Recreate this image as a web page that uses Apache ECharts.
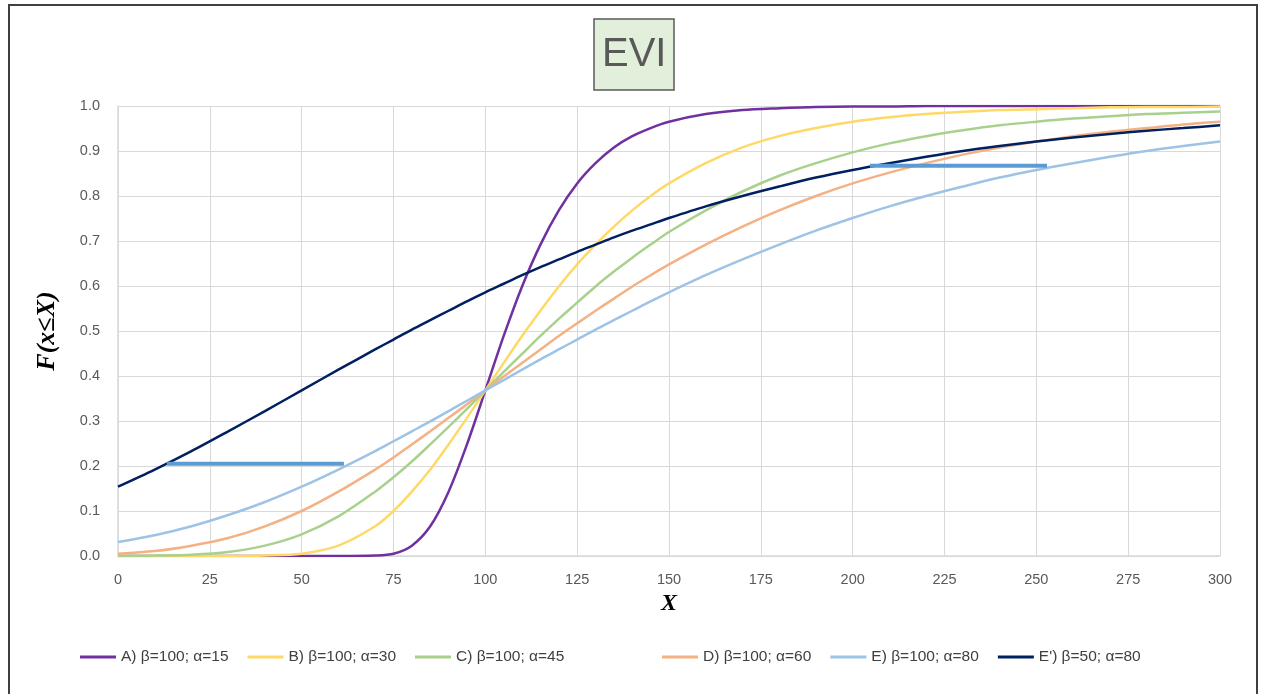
<!DOCTYPE html>
<html>
<head>
<meta charset="utf-8">
<script src="https://cdn.jsdelivr.net/npm/echarts@6/dist/echarts.min.js"></script>
<style>
  html, body { margin: 0; padding: 0; background: #fff; }
  #main { width: 1264px; height: 694px; }
</style>
</head>
<body>
<div id="main"></div>
<script>
// x positions (denser around the steep part)
var xs = [0, 10, 20, 30, 40, 50, 60, 70, 75, 80, 85, 90, 95, 100, 105, 110, 115, 120, 125, 130,
          135, 140, 145, 150, 160, 170, 180, 190, 200, 210, 220, 230, 240, 250, 260, 270, 280, 290, 300];

var seriesNames = ['A) β=100; α=15', 'B) β=100; α=30', 'C) β=100; α=45',
                   'D) β=100; α=60', 'E) β=100; α=80', "E') β=50; α=80"];

var yA = [0, 0, 0, 0, 0, 0, 0, 0.001, 0.005, 0.023, 0.066, 0.143, 0.248, 0.368, 0.489, 0.599, 0.692, 0.768, 0.828, 0.873,
          0.908, 0.933, 0.951, 0.965, 0.982, 0.991, 0.995, 0.998, 0.999, 0.999, 1.0, 1.0, 1.0, 1.0, 1.0, 1.0, 1.0, 1.0, 1.0];
var yB = [0, 0, 0, 0, 0.001, 0.005, 0.023, 0.066, 0.100, 0.143, 0.192, 0.248, 0.307, 0.368, 0.429, 0.489, 0.545, 0.599, 0.648, 0.692,
          0.732, 0.768, 0.800, 0.828, 0.873, 0.908, 0.933, 0.951, 0.965, 0.975, 0.982, 0.987, 0.991, 0.993, 0.995, 0.997, 0.998, 0.998, 0.999];
var yC = [0.000, 0.001, 0.003, 0.009, 0.023, 0.048, 0.088, 0.143, 0.175, 0.210, 0.248, 0.287, 0.327, 0.368, 0.409, 0.449, 0.489, 0.527, 0.563, 0.599,
          0.632, 0.663, 0.692, 0.720, 0.768, 0.810, 0.845, 0.873, 0.897, 0.917, 0.933, 0.946, 0.957, 0.965, 0.972, 0.977, 0.982, 0.985, 0.988];
var yD = [0.005, 0.011, 0.023, 0.040, 0.066, 0.100, 0.143, 0.192, 0.219, 0.248, 0.277, 0.307, 0.337, 0.368, 0.399, 0.429, 0.459, 0.489, 0.517, 0.545,
          0.572, 0.599, 0.624, 0.648, 0.692, 0.732, 0.768, 0.800, 0.828, 0.852, 0.873, 0.892, 0.908, 0.921, 0.933, 0.943, 0.951, 0.959, 0.965];
var yE = [0.031, 0.046, 0.066, 0.091, 0.120, 0.154, 0.192, 0.233, 0.255, 0.277, 0.299, 0.322, 0.345, 0.368, 0.391, 0.414, 0.437, 0.459, 0.481, 0.503,
          0.524, 0.545, 0.566, 0.586, 0.624, 0.659, 0.692, 0.723, 0.751, 0.777, 0.800, 0.821, 0.841, 0.858, 0.873, 0.887, 0.900, 0.911, 0.921];
var yE2 = [0.154, 0.192, 0.233, 0.277, 0.322, 0.368, 0.414, 0.459, 0.481, 0.503, 0.524, 0.545, 0.566, 0.586, 0.605, 0.624, 0.642, 0.659, 0.676, 0.692,
           0.708, 0.723, 0.737, 0.751, 0.777, 0.800, 0.821, 0.841, 0.858, 0.873, 0.887, 0.900, 0.911, 0.921, 0.930, 0.938, 0.945, 0.951, 0.957];

// the two horizontal bars
var barLow = [[13.3, 0.205], [61.5, 0.205]];
var barHigh = [[204.7, 0.867], [252.9, 0.867]];

var colors = ['#7030a0', '#ffd966', '#a9d18e', '#f4b183', '#9dc3e6', '#002060'];

function pairs(ys) {
    var out = [];
    for (var i = 0; i < xs.length; i++) out.push([xs[i], ys[i]]);
    return out;
}

window.onload = function () {
    var chart = echarts.init(document.getElementById('main'));
    var allY = [yA, yB, yC, yD, yE, yE2];
    var series = [];
    for (var i = 0; i < allY.length; i++) {
        series.push({
            type: 'line',
            name: seriesNames[i],
            data: pairs(allY[i]),
            smooth: 0.3,
            showSymbol: false,
            lineStyle: { width: 2.5, color: colors[i] },
            itemStyle: { color: colors[i] }
        });
    }
    [barLow, barHigh].forEach(function (b) {
        series.push({
            type: 'line',
            data: b,
            showSymbol: false,
            lineStyle: { width: 4, color: '#5b9bd5' },
            z: 5
        });
    });

    var legendBase = {
        bottom: 24,
        icon: 'rect',
        itemWidth: 36,
        itemHeight: 3,
        itemGap: 19,
        textStyle: { fontSize: 15.5, color: '#404040', fontFamily: 'Liberation Sans' }
    };

    var option = {
        animation: false,
        color: colors,
        title: {
            text: 'EVI',
            left: 594,
            top: 19,
            padding: [12, 8],
            backgroundColor: '#e2efda',
            borderColor: '#595959',
            borderWidth: 1.5,
            textStyle: { fontSize: 40, fontWeight: 'normal', color: '#595959', fontFamily: 'Liberation Sans', lineHeight: 47 }
        },
        graphic: [{
            type: 'rect',
            shape: { x: 9, y: 5, width: 1248, height: 700 },
            style: { fill: 'none', stroke: '#404040', lineWidth: 2 },
            silent: true
        }],
        legend: [
            Object.assign({ data: seriesNames.slice(0, 3), left: 75 }, legendBase),
            Object.assign({ data: seriesNames.slice(3), left: 657 }, legendBase)
        ],
        grid: { left: 118, right: 44, top: 106, bottom: 138 },
        xAxis: {
            type: 'value',
            min: 0,
            max: 300,
            interval: 25,
            name: 'X',
            nameLocation: 'middle',
            nameGap: 29,
            nameTextStyle: { fontSize: 24, fontStyle: 'italic', fontWeight: 'bold', fontFamily: 'Liberation Serif', color: '#000' },
            axisLine: { lineStyle: { color: '#d9d9d9', width: 1.5 } },
            axisTick: { show: false },
            axisLabel: { color: '#595959', fontSize: 14.5, margin: 16, fontFamily: 'Liberation Sans' },
            splitLine: { lineStyle: { color: '#d9d9d9', width: 1 } }
        },
        yAxis: {
            type: 'value',
            min: 0,
            max: 1,
            interval: 0.1,
            name: 'F(x≤X)',
            nameLocation: 'middle',
            nameGap: 58,
            nameTextStyle: { fontSize: 26, fontStyle: 'italic', fontWeight: 'bold', fontFamily: 'Liberation Serif', color: '#000' },
            axisLine: { show: true, lineStyle: { color: '#d9d9d9', width: 1.5 } },
            axisTick: { show: false },
            axisLabel: {
                color: '#595959', fontSize: 14.5, margin: 18, fontFamily: 'Liberation Sans',
                formatter: function (v) { return v.toFixed(1); }
            },
            splitLine: { lineStyle: { color: '#d9d9d9', width: 1 } }
        },
        series: series
    };
    chart.setOption(option);
};
</script>
</body>
</html>
